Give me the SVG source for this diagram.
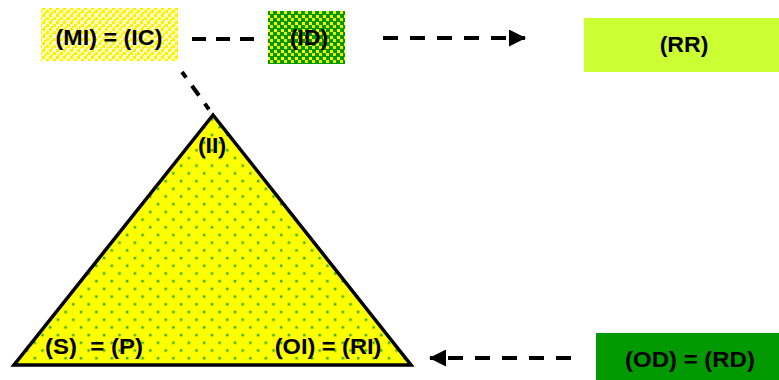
<svg xmlns="http://www.w3.org/2000/svg" width="779" height="380" viewBox="0 0 779 380">
<style>
text{font-family:"Liberation Sans",Arial,sans-serif;font-weight:bold;font-size:22px;fill:#000;text-anchor:middle}
.dash{stroke:#000;stroke-width:4;stroke-dasharray:15,12;fill:none}
</style>
<defs>
<pattern id="pMI" width="7" height="7" patternUnits="userSpaceOnUse">
<rect width="7" height="7" fill="#FFFFC8"/>
<rect x="0" y="0" width="3" height="3" fill="#FFF000"/>
<rect x="4" y="3" width="3" height="3" fill="#FFF200"/>
<rect x="2" y="5" width="2" height="2" fill="#FFF400"/>
</pattern>
<pattern id="pID" width="7" height="7" patternUnits="userSpaceOnUse">
<rect width="7" height="7" fill="#009900"/>
<rect x="1" y="1" width="3" height="3" fill="#FFFF00"/>
<rect x="4" y="4" width="3" height="3" fill="#E8F000"/>
</pattern>
<pattern id="pTri" width="15.4" height="15.4" patternUnits="userSpaceOnUse">
<rect width="15.4" height="15.4" fill="#FFFF00"/>
<rect x="2.5" y="2.5" width="3" height="3" fill="#BBE000"/>
<rect x="3" y="3" width="2" height="2" fill="#22AA00"/>
<rect x="10.2" y="10.2" width="3" height="3" fill="#BBE000"/>
<rect x="10.7" y="10.7" width="2" height="2" fill="#22AA00"/>
</pattern>
<marker id="ahb" markerWidth="17" markerHeight="17" refX="16" refY="8.5" orient="auto" markerUnits="userSpaceOnUse" viewBox="0 0 17 17">
<path d="M0,0 L17,8.5 L0,17 Z" fill="#000"/>
</marker>
</defs>
<g id="connectors">
<line class="dash" x1="192" y1="39" x2="256" y2="39" style="stroke-dasharray:14,10"/>
<line class="dash" x1="383" y1="38" x2="525" y2="38" marker-end="url(#ahb)"/>
<line class="dash" x1="182" y1="72" x2="213" y2="115" style="stroke-dasharray:7,10,12,10"/>
<line class="dash" x1="571" y1="358" x2="430" y2="358" marker-end="url(#ahb)"/>
</g>
<g id="MI">
<rect x="41" y="8" width="137" height="53" fill="url(#pMI)"/>
<text transform="translate(109,45) scale(1.06,1)">(MI) = (IC)</text>
</g>
<g id="ID">
<rect x="268" y="11" width="77" height="53" fill="url(#pID)"/>
<text transform="translate(309,45) scale(1.04,1)">(ID)</text>
</g>
<g id="RR">
<rect x="584" y="18" width="195" height="54" fill="#CCFF33"/>
<text transform="translate(684,52) scale(1.05,1)">(RR)</text>
</g>
<g id="triangle">
<polygon points="213,115 14,365 411,365" fill="url(#pTri)" stroke="#000" stroke-width="3.5" stroke-linejoin="miter"/>
<text transform="translate(212,153) scale(1.05,1)">(II)</text>
<text transform="translate(94,354) scale(1.09,1)" style="white-space:pre">(S)  = (P)</text>
<text transform="translate(328,354) scale(1.07,1)">(OI) = (RI)</text>
</g>
<g id="OD">
<rect x="596" y="333" width="183" height="47" fill="#009900"/>
<text transform="translate(690,367) scale(1.09,1)">(OD) = (RD)</text>
</g>
</svg>
